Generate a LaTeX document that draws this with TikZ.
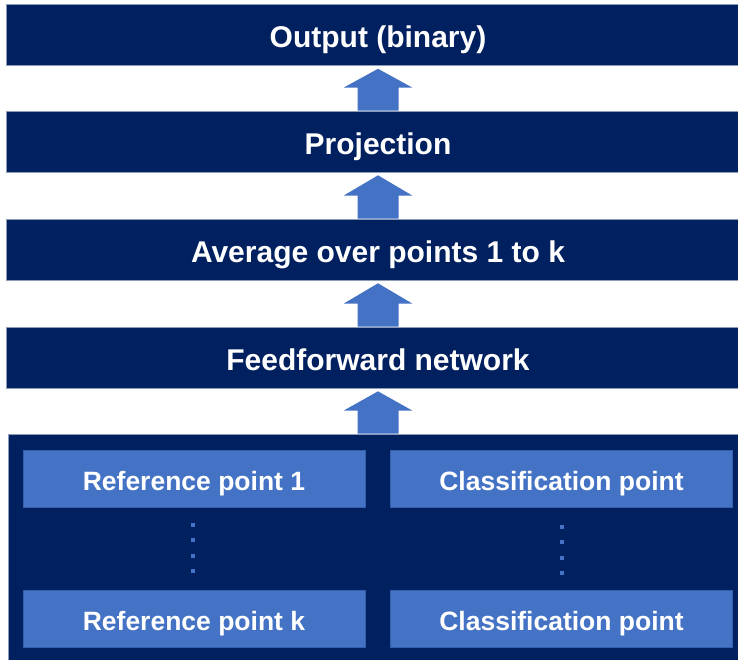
\documentclass[tikz,border=0pt]{standalone}
\usepackage{fontspec}
\setmainfont{Liberation Sans}
\usetikzlibrary{calc}

\definecolor{navy}{HTML}{002060}
\definecolor{accent}{HTML}{4472C4}
\definecolor{rim}{HTML}{8C9BB8}

\begin{document}
\begin{tikzpicture}[
  x=1pt, y=-1pt,
  every node/.style={text=white, align=center, inner sep=0pt},
  layer/.style={fill=navy, draw=rim, line width=0.6pt, minimum width=744pt, minimum height=61pt, text height=25.6pt, text depth=0pt, font=\fontsize{30}{36}\selectfont\bfseries},
  inputbox/.style={fill=navy, draw=rim, line width=0.6pt, minimum width=740pt, minimum height=232pt},
  pointbox/.style={fill=accent, draw=accent!75!navy, line width=0.6pt, minimum width=342pt, minimum height=57pt, text height=22pt, text depth=0pt, font=\fontsize{26.5}{32}\selectfont\bfseries},
  dot/.style={fill=accent, minimum size=4pt}
]
\useasboundingbox (0,0) rectangle (738,660);
\fill[white] (0,0) rectangle (738,660);
\clip (0,0) rectangle (738,660);

\node[layer] (out)  at (378,35)    {Output (binary)};
\node[layer] (proj) at (378,141.5) {Projection};
\node[layer] (avg)  at (378,249.5) {Average over points 1 to k};
\node[layer] (ffn)  at (378,357.5) {Feedforward network};
\node[inputbox] (inp) at (378,550) {};

\node[pointbox] (ref1) at (194,479)   {Reference point 1};
\node[pointbox] (refk) at (194,619)   {Reference point k};
\node[pointbox] (cls1) at (561.5,479) {Classification point};
\node[pointbox] (clsk) at (561.5,619) {Classification point};

\foreach \y [count=\i] in {525,540,556,571} {
  \node[dot] (refdot\i) at (193,\y) {};
  \node[dot] (clsdot\i) at (562,\y+1.5) {};
}

\foreach \a/\b in {proj/out, avg/proj, ffn/avg, inp/ffn}
  \fill[accent] ($(\a.north)+(-20.5,0)$) -- ++(0,-23) -- ++(-14,0)
    -- ($(\b.south)+(0,3)$) -- ($(\a.north)+(34.5,-23)$) -- ++(-14,0)
    -- ($(\a.north)+(20.5,0)$) -- cycle;
\end{tikzpicture}
\end{document}
